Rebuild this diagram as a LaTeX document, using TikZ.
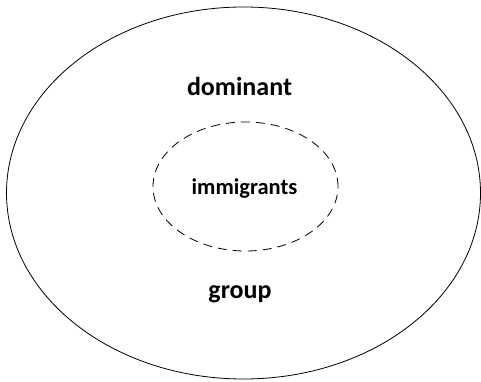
\documentclass[tikz,border=0pt]{standalone}
\usepackage{fontspec}
\setmainfont{Carlito}
\begin{document}
\begin{tikzpicture}[x=1pt,y=1pt,
  outerring/.style={draw=black,line width=0.8pt},
  innerring/.style={draw=black,line width=0.8pt,dash pattern=on 9pt off 6pt},
  biglabel/.style={font=\fontsize{26}{30}\selectfont\bfseries,anchor=base,inner sep=0pt},
  smalllabel/.style={font=\fontsize{22.5}{26}\selectfont\bfseries,anchor=base,inner sep=0pt}]
\useasboundingbox (0,0) rectangle (481,381);
\draw[outerring] (243.5,188) ellipse [x radius=237, y radius=186];
\draw[innerring] (245.5,194.5) ellipse [x radius=92.5, y radius=64.5];
\node[biglabel] (dom) at (239.5,286) {dominant};
\node[smalllabel] (imm) at (244.5,187) {immigrants};
\node[biglabel] (grp) at (240,83) {group};
\end{tikzpicture}
\end{document}
